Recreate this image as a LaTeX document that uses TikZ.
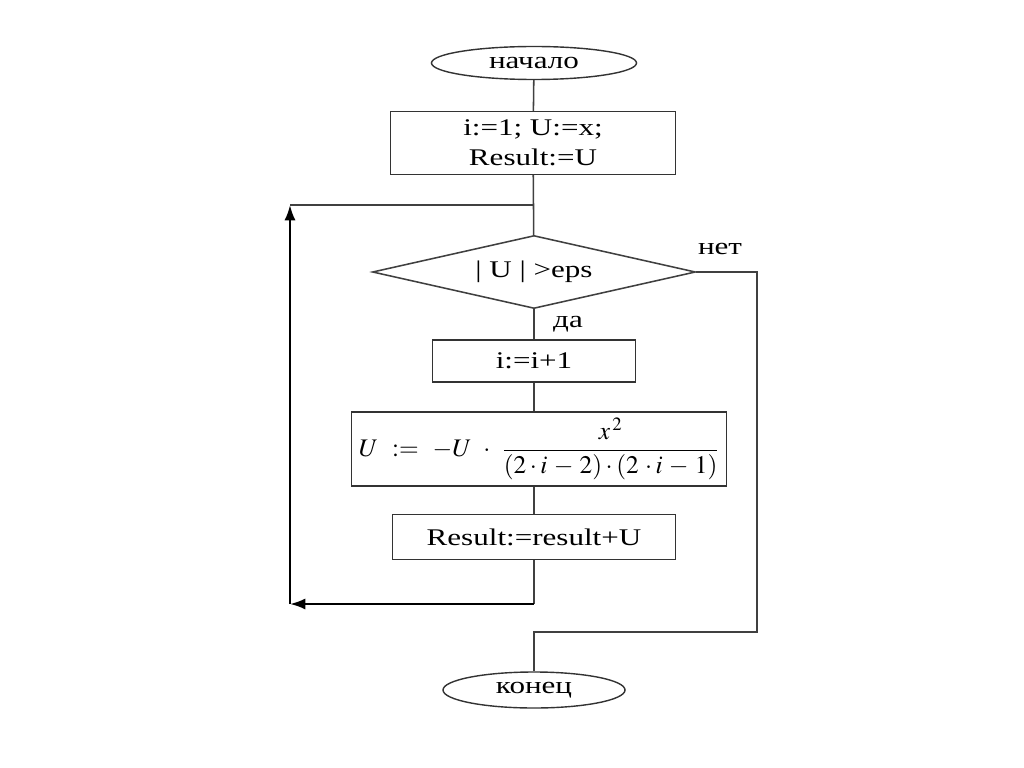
\documentclass[tikz,border=0pt]{standalone}
\usepackage{amsmath}
\usepackage{mathptmx}
\usepackage{fontspec}
\setmainfont{Liberation Serif}[FakeStretch=1.3]
\usepackage{tikz}
\usetikzlibrary{positioning}
\usetikzlibrary{shapes.geometric,arrows.meta}

\tikzset{
  flowline/.style={draw=black!75, line width=1.1pt},
  terminal/.style={ellipse, draw=black!80, line width=1pt, inner sep=0pt},
  procbox/.style={rectangle, draw=black!80, line width=1pt, inner sep=0pt, align=center},
  decision/.style={diamond, draw=black!75, line width=1.1pt, inner sep=0pt, aspect=4.4},
  backarrow/.style={draw=black, line width=1.6pt, -{Latex[length=11pt,width=8pt]}},
}

\begin{document}
\begin{tikzpicture}[x=0.025cm, y=-0.025cm, font=\fontsize{17}{21}\selectfont]

    \useasboundingbox (0,0) rectangle (1024,768);

	% blocks of the flowchart, centres taken from the layout
	\node[terminal, minimum width=5.125cm, minimum height=0.825cm] (Start) at (534,63) {начало};
	\node[procbox, minimum width=7.125cm, minimum height=1.575cm] (Init) at (533,143) {i:=1; U:=x;\\Result:=U};
	\node[decision, minimum width=8.075cm, minimum height=1.825cm] (Check) at (534,272) {| U | >eps};
	\node[procbox, minimum width=5.075cm, minimum height=1.05cm] (Incr) at (534,361) {i:=i+1};
	\node[procbox, minimum width=9.375cm, minimum height=1.85cm, font=\fontsize{18}{22}\selectfont] (Term) at (539,449)
	    {$U\ :=\ -U\ \cdot\ \dfrac{x^{\,2}}{(2\cdot i\,-\,2)\cdot(2\,\cdot i\,-\,1)}$};
	\node[procbox, minimum width=7.075cm, minimum height=1.125cm] (Sum) at (534,537) {Result:=result+U};
	\node[terminal, minimum width=4.55cm, minimum height=0.9cm] (Stop) at (534,690) {конец};

	% branch labels
	\node (No)  at (720,249) {нет};
	\node (Yes) at (568,324) {да};

	% corner points of the loop and of the exit
	\coordinate (Join)  at (534,205);
	\coordinate (LoopT) at (290,205);
	\coordinate (LoopB) at (290,604);
	\coordinate (Back)  at (534,604);
	\coordinate (ExitT) at (757,272);
	\coordinate (ExitB) at (757,632);
	\coordinate (ExitL) at (534,632);

	%%%%%%%%%%%%%%%%%%%%%%%%%%%%%%%%%%%%%%%%%%%%%%%%%%%%%%%%%%%%%%
	\draw[flowline] (Start) -- (Init);
	\draw[flowline] (Init) -- (Check);
	\draw[flowline] (Check) -- (Incr);
	\draw[flowline] (Incr.south) -- (Incr.south |- Term.north);
	\draw[flowline] (Term.south -| Sum.north) -- (Sum.north);

	% loop back to the condition
	\draw[flowline] (Sum.south) -- (Back);
	\draw[backarrow] (Back) -- (LoopB);
	\draw[backarrow] (LoopB) -- (LoopT);
	\draw[flowline] (LoopT) -- (Join);

	% exit when the condition fails
	\draw[flowline] (Check.east) -- (ExitT) -- (ExitB) -- (ExitL) -- (Stop.north);

\end{tikzpicture}
\end{document}
